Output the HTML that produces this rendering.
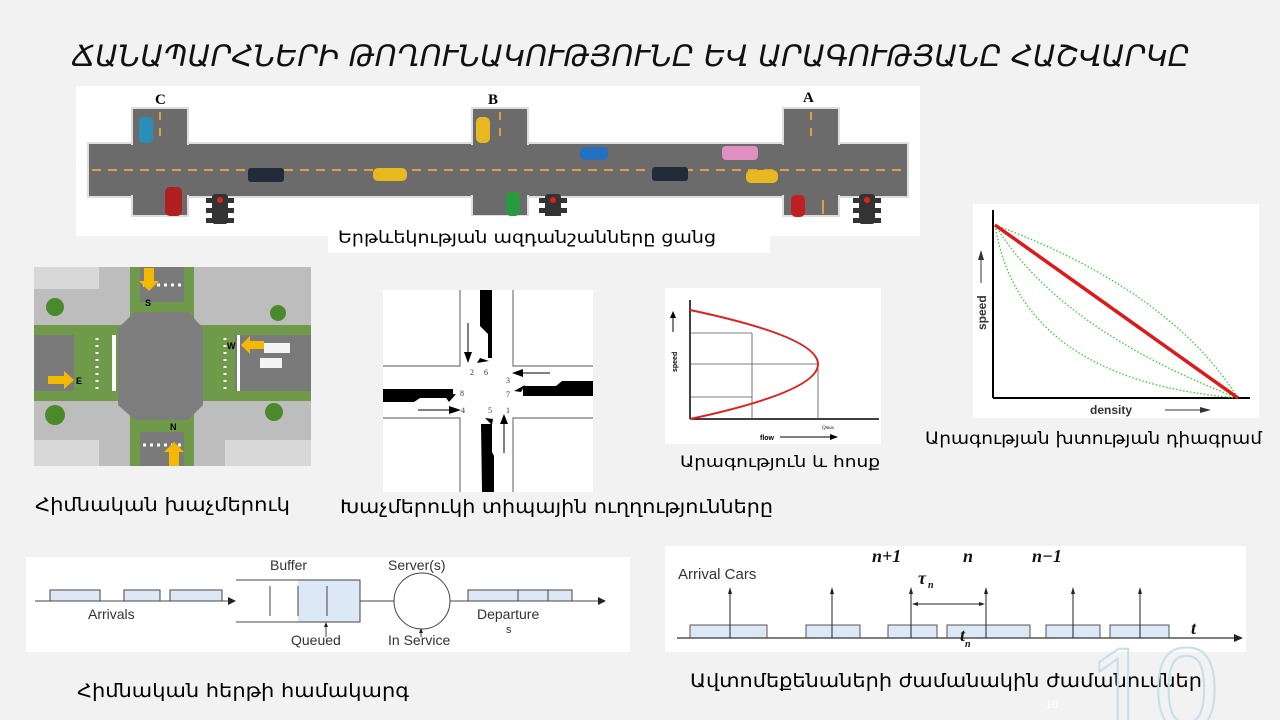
<!DOCTYPE html>
<html><head><meta charset="utf-8"><style>
html,body{margin:0;padding:0;background:#f2f2f2;}
svg{display:block}
.arm{font-family:"DejaVu Sans Condensed","DejaVu Sans",sans-serif;}
.lib{font-family:"Liberation Sans",sans-serif;}
.ser{font-family:"Liberation Serif",serif;}
</style></head><body>
<svg width="1280" height="720" viewBox="0 0 1280 720" xmlns="http://www.w3.org/2000/svg">
<rect width="1280" height="720" fill="#f2f2f2"/>
<!-- title -->
<text x="72" y="66" class="arm" font-size="29" font-style="italic" fill="#111" textLength="1118" lengthAdjust="spacingAndGlyphs">ՃԱՆԱՊԱՐՀՆԵՐԻ ԹՈՂՈՒՆԱԿՈՒԹՅՈՒՆԸ ԵՎ ԱՐԱԳՈՒԹՅԱՆԸ ՀԱՇՎԱՐԿԸ</text>

<!-- road image -->
<rect x="76" y="86" width="844" height="150" fill="#fff"/>
<g fill="#6b6b6b" stroke="#ddd" stroke-width="2">
<rect x="88" y="143" width="820" height="54"/>
<rect x="132" y="108" width="56" height="108"/>
<rect x="472" y="108" width="56" height="108"/>
<rect x="783" y="108" width="56" height="108"/>
</g>
<rect x="90" y="145" width="816" height="50" fill="#6b6b6b"/>
<rect x="134" y="110" width="52" height="104" fill="#6b6b6b"/>
<rect x="474" y="110" width="52" height="104" fill="#6b6b6b"/>
<rect x="785" y="110" width="52" height="104" fill="#6b6b6b"/>
<line x1="92" y1="170" x2="905" y2="170" stroke="#e0a040" stroke-width="2" stroke-dasharray="9,7"/>
<line x1="160" y1="112" x2="160" y2="140" stroke="#e0a040" stroke-width="2" stroke-dasharray="8,8"/>
<line x1="500" y1="112" x2="500" y2="140" stroke="#e0a040" stroke-width="2" stroke-dasharray="8,8"/>
<line x1="811" y1="112" x2="811" y2="140" stroke="#e0a040" stroke-width="2" stroke-dasharray="8,8"/>
<line x1="172" y1="200" x2="172" y2="214" stroke="#e0a040" stroke-width="2"/>
<line x1="512" y1="200" x2="512" y2="214" stroke="#e0a040" stroke-width="2"/>
<line x1="823" y1="200" x2="823" y2="214" stroke="#e0a040" stroke-width="2"/>
<text x="155" y="104" class="ser" font-size="15" font-weight="bold">C</text>
<text x="488" y="104" class="ser" font-size="15" font-weight="bold">B</text>
<text x="803" y="102" class="ser" font-size="15" font-weight="bold">A</text>
<!-- cars -->
<rect x="139" y="117" width="14" height="26" rx="5" fill="#2a8fb8"/>
<rect x="476" y="117" width="14" height="26" rx="5" fill="#e8b820"/>
<rect x="580" y="147" width="28" height="13" rx="5" fill="#2470c0"/>
<rect x="722" y="146" width="36" height="14" rx="4" fill="#e090c0"/>
<rect x="248" y="168" width="36" height="14" rx="3" fill="#222c38"/>
<rect x="373" y="168" width="34" height="13" rx="5" fill="#e8b820"/>
<rect x="652" y="167" width="36" height="14" rx="3" fill="#222c38"/>
<rect x="746" y="170" width="32" height="13" rx="5" fill="#e8b820"/>
<rect x="165" y="187" width="17" height="29" rx="5" fill="#b02020"/>
<rect x="506" y="192" width="14" height="24" rx="5" fill="#2a9a40"/>
<rect x="791" y="195" width="14" height="22" rx="5" fill="#c02020"/>
<!-- traffic lights -->
<g fill="#333">
<rect x="212" y="194" width="16" height="30" rx="3"/><rect x="206" y="198" width="28" height="5"/><rect x="206" y="208" width="28" height="5"/><rect x="206" y="218" width="28" height="5"/>
<rect x="545" y="194" width="16" height="30" rx="3"/><rect x="539" y="198" width="28" height="5"/><rect x="539" y="208" width="28" height="5"/><rect x="539" y="218" width="28" height="5"/>
<rect x="859" y="194" width="16" height="30" rx="3"/><rect x="853" y="198" width="28" height="5"/><rect x="853" y="208" width="28" height="5"/><rect x="853" y="218" width="28" height="5"/>
</g>
<circle cx="220" cy="200" r="3" fill="#e02020"/><circle cx="553" cy="200" r="3" fill="#e02020"/><circle cx="867" cy="200" r="3" fill="#e02020"/>
<rect x="328" y="216" width="442" height="37" fill="#fff"/>
<text x="338" y="243" class="arm" font-size="17" textLength="378" lengthAdjust="spacingAndGlyphs">Երթևեկության  ազդանշանները ցանց</text>

<!-- intersection photo -->
<rect x="34" y="267" width="277" height="199" fill="#bdbdbd"/>
<rect x="34" y="267" width="65" height="22" fill="#d8d8d8"/>
<rect x="34" y="440" width="65" height="26" fill="#d8d8d8"/>
<rect x="225" y="440" width="86" height="26" fill="#d8d8d8"/>
<rect x="130" y="267" width="64" height="199" fill="#6f9a4a"/>
<rect x="34" y="325" width="277" height="76" fill="#6f9a4a"/>
<rect x="34" y="335" width="40" height="56" fill="#7a7a7a"/>
<rect x="235" y="335" width="76" height="56" fill="#7a7a7a"/>
<rect x="140" y="267" width="44" height="35" fill="#7a7a7a"/>
<rect x="140" y="432" width="44" height="34" fill="#7a7a7a"/>
<polygon points="135,312 188,312 203,328 203,405 188,420 135,420 118,405 118,328" fill="#7e7e7e"/>
<g stroke="#fff" stroke-width="3">
<line x1="143" y1="285" x2="182" y2="285" stroke-dasharray="3,4"/>
<line x1="143" y1="445" x2="182" y2="445" stroke-dasharray="3,4"/>
</g>
<g stroke="#fff" stroke-width="3" stroke-dasharray="2,5">
<line x1="97" y1="338" x2="97" y2="393"/>
<line x1="225" y1="338" x2="225" y2="393"/>
</g>
<rect x="112" y="335" width="4" height="56" fill="#fff"/>
<rect x="237" y="335" width="3" height="56" fill="#fff"/>
<rect x="264" y="343" width="26" height="10" fill="#f4f4f4"/><rect x="260" y="358" width="22" height="10" fill="#f4f4f4"/>
<circle cx="55" cy="307" r="9" fill="#4a8a2a"/><circle cx="55" cy="415" r="10" fill="#4a8a2a"/><circle cx="278" cy="313" r="8" fill="#4a8a2a"/><circle cx="274" cy="412" r="9" fill="#4a8a2a"/>
<polygon points="144,268 154,268 154,281 159,281 149,291 139,281 144,281" fill="#f5b800"/>
<polygon points="169,466 179,466 179,452 184,452 174,442 164,452 169,452" fill="#f5b800"/>
<polygon points="48,376 64,376 64,371 74,380 64,389 64,384 48,384" fill="#f5b800"/>
<polygon points="264,341 250,341 250,336 241,345 250,354 250,349 264,349" fill="#f5b800"/>
<g class="lib" font-size="9" font-weight="bold">
<text x="145" y="306">S</text><text x="170" y="430">N</text><text x="76" y="384">E</text><text x="227" y="349">W</text>
</g>

<!-- directions diagram -->
<rect x="383" y="290" width="210" height="202" fill="#fff"/>
<g stroke="#777" stroke-width="1.2" fill="none">
<polyline points="460,290 460,366 383,366"/>
<polyline points="513,290 513,366 593,366"/>
<polyline points="460,492 460,418 383,418"/>
<polyline points="513,492 513,418 593,418"/>
</g>
<g fill="#000">
<polygon points="480,290 492,290 492,358 488,358 488,334 480,326"/>
<polygon points="383,389 453,389 453,398 420,398 414,402 383,402"/>
<polygon points="523,386 556,386 562,381 593,381 593,396 523,396"/>
<polygon points="481,424 492,424 492,452 494,456 494,492 482,492"/>
</g>
<g stroke="#000" stroke-width="1" fill="none">
<line x1="468" y1="323" x2="468" y2="355"/>
<line x1="550" y1="373" x2="520" y2="373"/>
<line x1="418" y1="410" x2="453" y2="410"/>
<line x1="504" y1="453" x2="504" y2="420"/>
</g>
<g fill="#000">
<polygon points="464,352 472,352 468,363"/>
<polygon points="523,369 523,377 512,373"/>
<polygon points="449,406 449,414 461,410"/>
<polygon points="500,424 508,424 504,414"/>
<polygon points="480,358 489,361 477,363"/>
<polygon points="521,392 514,391 525,385"/>
<polygon points="444,395 449,402 456,394"/>
<polygon points="493,419 485,418 492,425"/>
</g>
<g class="ser" font-size="8" fill="#333">
<text x="470" y="375">2</text><text x="484" y="375">6</text><text x="506" y="383">3</text><text x="506" y="397">7</text>
<text x="460" y="396">8</text><text x="461" y="413">4</text><text x="488" y="413">5</text><text x="506" y="413">1</text>
</g>

<!-- speed-flow -->
<rect x="665" y="288" width="216" height="156" fill="#fff"/>
<line x1="690" y1="300" x2="690" y2="419" stroke="#000" stroke-width="1.5"/>
<line x1="690" y1="419" x2="879" y2="419" stroke="#000" stroke-width="1.5"/>
<g stroke="#555" stroke-width="0.8">
<line x1="690" y1="333" x2="752" y2="333"/><line x1="690" y1="364" x2="818" y2="364"/><line x1="690" y1="397" x2="752" y2="397"/>
<line x1="752" y1="333" x2="752" y2="419"/><line x1="818" y1="364" x2="818" y2="419"/>
</g>
<path d="M690,310 Q946,364 690,419" stroke="#e02020" stroke-width="2" fill="none"/>
<text x="0" y="0" class="lib" font-size="7" font-weight="bold" transform="translate(677,372) rotate(-90)">speed</text>
<line x1="673" y1="332" x2="673" y2="316" stroke="#000"/><polygon points="670,318 676,318 673,311"/>
<text x="760" y="440" class="lib" font-size="7" font-weight="bold">flow</text>
<line x1="780" y1="437" x2="834" y2="437" stroke="#000"/><polygon points="830,434 838,437 830,440"/>
<text x="822" y="429" class="ser" font-size="5" font-style="italic">Qmax</text>
<text x="680" y="467" class="arm" font-size="16" textLength="200" lengthAdjust="spacingAndGlyphs">Արագություն և հոսք</text>

<!-- density chart -->
<rect x="973" y="204" width="286" height="214" fill="#fff"/>
<line x1="993" y1="210" x2="993" y2="398" stroke="#000" stroke-width="2"/>
<line x1="993" y1="398" x2="1250" y2="398" stroke="#000" stroke-width="2"/>
<g stroke="#30d030" stroke-width="1.3" fill="none" stroke-dasharray="1.5,2">
<path d="M995,225 Q1170,290 1238,398"/>
<path d="M995,225 Q1060,330 1238,398"/>
<path d="M995,225 Q1020,380 1238,398"/>
<path d="M995,225 Q1130,320 1238,398"/>
</g>
<line x1="995" y1="225" x2="1238" y2="398" stroke="#e01818" stroke-width="3.5"/>
<text x="0" y="0" class="lib" font-size="12" font-weight="bold" fill="#333" transform="translate(986,330) rotate(-90)">speed</text>
<line x1="981" y1="283" x2="981" y2="255" stroke="#333"/><polygon points="978,260 984,260 981,250" fill="#333"/>
<text x="1090" y="414" class="lib" font-size="12" font-weight="bold" fill="#333">density</text>
<line x1="1165" y1="410" x2="1205" y2="410" stroke="#333"/><polygon points="1200,407 1211,410 1200,413" fill="#333"/>
<text x="925" y="444" class="arm" font-size="17" textLength="337" lengthAdjust="spacingAndGlyphs">Արագության խտության դիագրամ</text>

<!-- captions middle -->
<text x="35" y="511" class="arm" font-size="19" textLength="255" lengthAdjust="spacingAndGlyphs">Հիմնական  խաչմերուկ</text>
<text x="340" y="513" class="arm" font-size="19" textLength="433" lengthAdjust="spacingAndGlyphs">Խաչմերուկի տիպային ուղղությունները</text>

<!-- queue -->
<rect x="26" y="557" width="604" height="95" fill="#fff"/>
<g stroke="#444" stroke-width="1" fill="#dce8f5">
<line x1="35" y1="601" x2="228" y2="601"/>
<rect x="50" y="590" width="50" height="11"/><rect x="124" y="590" width="36" height="11"/><rect x="170" y="590" width="52" height="11"/>
<rect x="298" y="580" width="62" height="42" stroke="none"/>
<polyline points="236,580 360,580 360,622 236,622" fill="none"/>
<line x1="270" y1="586" x2="270" y2="616"/><line x1="298" y1="586" x2="298" y2="616"/><line x1="327" y1="586" x2="327" y2="616"/>
<line x1="360" y1="601" x2="394" y2="601"/>
<circle cx="422" cy="601" r="28" fill="#fff"/>
<line x1="450" y1="601" x2="598" y2="601"/>
<rect x="468" y="590" width="104" height="11"/>
<line x1="518" y1="590" x2="518" y2="601"/><line x1="548" y1="590" x2="548" y2="601"/>
<line x1="326" y1="637" x2="326" y2="625"/><line x1="421" y1="637" x2="421" y2="632"/>
</g>
<polygon points="228,597 236,601 228,605" fill="#222"/><polygon points="598,597 606,601 598,605" fill="#222"/>
<polygon points="324,627 328,627 326,622" fill="#222"/><polygon points="419,633 423,633 421,628" fill="#222"/>
<g class="lib" font-size="14" fill="#333">
<text x="88" y="619">Arrivals</text><text x="270" y="570">Buffer</text><text x="388" y="570">Server(s)</text>
<text x="477" y="619">Departure</text><text x="506" y="633" font-size="11">s</text>
<text x="291" y="645">Queued</text><text x="388" y="645">In Service</text>
</g>
<text x="77" y="697" class="arm" font-size="19" textLength="332" lengthAdjust="spacingAndGlyphs">Հիմնական հերթի համակարգ</text>

<!-- arrival cars -->
<rect x="665" y="546" width="581" height="106" fill="#fff"/>
<g stroke="#555" fill="#dce8f5" stroke-width="1">
<rect x="690" y="625" width="77" height="13"/><rect x="806" y="625" width="54" height="13"/><rect x="888" y="625" width="49" height="13"/>
<rect x="947" y="625" width="83" height="13"/><rect x="1046" y="625" width="54" height="13"/><rect x="1110" y="625" width="59" height="13"/>
</g>
<line x1="677" y1="638" x2="1236" y2="638" stroke="#555" stroke-width="1.5"/>
<polygon points="1234,634 1243,638 1234,642" fill="#222"/>
<g stroke="#222" stroke-width="1">
<line x1="730" y1="638" x2="730" y2="592"/><line x1="832" y1="638" x2="832" y2="592"/><line x1="911" y1="638" x2="911" y2="592"/>
<line x1="986" y1="638" x2="986" y2="592"/><line x1="1073" y1="638" x2="1073" y2="592"/><line x1="1140" y1="638" x2="1140" y2="592"/>
<line x1="914" y1="604" x2="983" y2="604"/>
</g>
<g fill="#222">
<polygon points="728,594 732,594 730,587"/><polygon points="830,594 834,594 832,587"/><polygon points="909,594 913,594 911,587"/>
<polygon points="984,594 988,594 986,587"/><polygon points="1071,594 1075,594 1073,587"/><polygon points="1138,594 1142,594 1140,587"/>
<polygon points="918,602 918,606 912,604"/><polygon points="979,602 979,606 985,604"/>
</g>
<text x="678" y="579" class="lib" font-size="15" fill="#333">Arrival Cars</text>
<g class="ser" font-size="18" font-style="italic" font-weight="bold" fill="#111">
<text x="872" y="562">n+1</text><text x="963" y="562">n</text><text x="1032" y="562">n−1</text>
<text x="918" y="584">τ</text><text x="928" y="588" font-size="10">n</text>
<text x="960" y="641">t</text><text x="965" y="647" font-size="10">n</text>
<text x="1191" y="634">t</text>
</g>
<text x="690" y="687" class="arm" font-size="19" textLength="512" lengthAdjust="spacingAndGlyphs">Ավտոմեքենաների ժամանակին ժամանումներ</text>

<!-- page number -->
<text x="1088" y="730" class="lib" font-size="118" fill="none" stroke="#c4e0ea" stroke-width="2">10</text>
<text x="1046" y="708" class="lib" font-size="11" fill="#fff">10</text>
</svg>
</body></html>
